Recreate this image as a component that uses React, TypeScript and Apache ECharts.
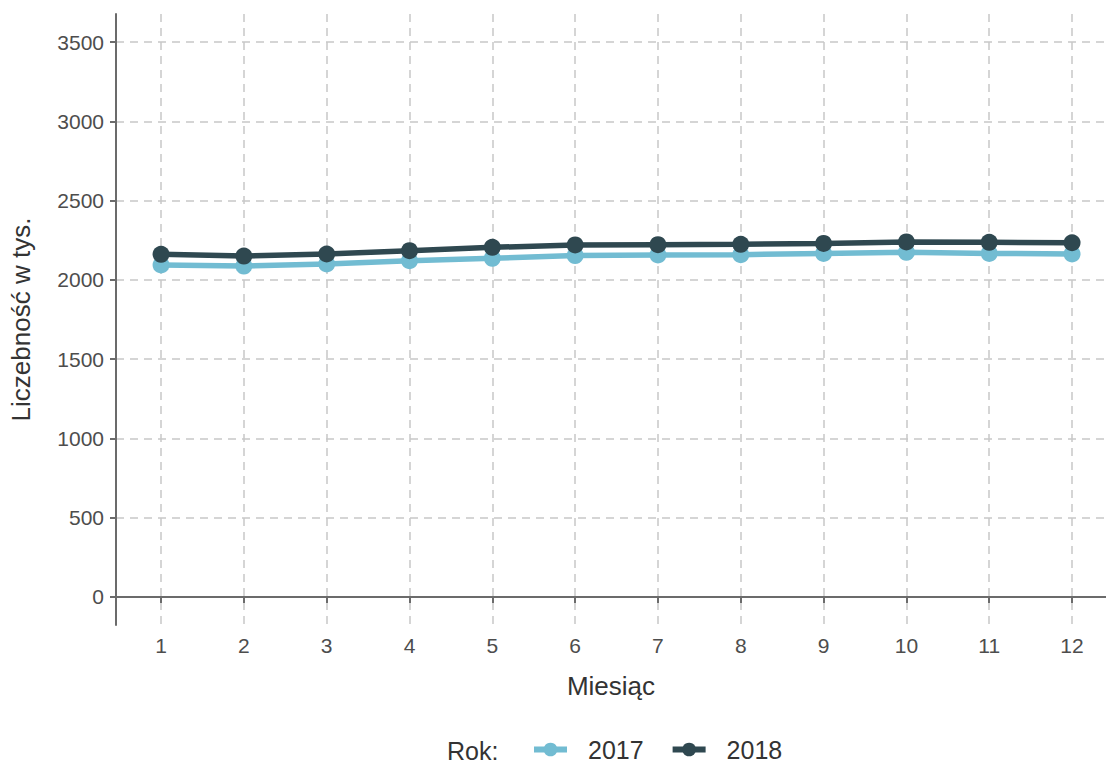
import React, { useEffect, useRef } from "react";
import * as echarts from "echarts";

const months = [1, 2, 3, 4, 5, 6, 7, 8, 9, 10, 11, 12];
const values2017 = [2094, 2087, 2100, 2121, 2136, 2153, 2157, 2159, 2167, 2174, 2167, 2163];
const values2018 = [2161, 2150, 2163, 2184, 2205, 2220, 2222, 2224, 2230, 2239, 2237, 2234];
const yTicks = [0, 500, 1000, 1500, 2000, 2500, 3000, 3500];
const seriesNames = ["2017", "2018"];
const colors = ["#72bcd2", "#2f4850"];

const FONT = "Liberation Sans, Arial, sans-serif";

export default function App() {
  const ref = useRef<HTMLDivElement>(null);
  useEffect(() => {
    if (!ref.current) return;
    const chart = echarts.init(ref.current, undefined, { renderer: "svg" });
    const mk = (vals: number[]) => vals.map((v, i) => [months[i], v]);
    chart.setOption({
      animation: false,
      backgroundColor: "#ffffff",
      textStyle: { fontFamily: FONT },
      grid: { left: 116, right: 0, top: 14, bottom: 140, containLabel: false },
      xAxis: {
        type: "value",
        min: 0.456,
        max: 12.41,
        name: "Miesiąc",
        nameLocation: "middle",
        nameGap: 48,
        nameTextStyle: { fontSize: 26, color: "#333333", fontFamily: FONT },
        axisLine: { show: true, lineStyle: { color: "#6b6b6b", width: 2 } },
        axisTick: { show: true, length: 6, customValues: months, lineStyle: { color: "#6b6b6b", width: 2 } },
        axisLabel: {
          customValues: months,
          fontSize: 21,
          color: "#4d4d4d",
          margin: 10,
          fontFamily: FONT,
          formatter: (v: number) => String(v),
        },
        splitLine: { show: true, lineStyle: { color: "#c8c8c8", width: 1.5, type: [8, 6] } },
      },
      yAxis: {
        type: "value",
        min: -176.6,
        max: 3676.6,
        name: "Liczebność w tys.",
        nameLocation: "middle",
        nameGap: 82,
        nameRotate: 90,
        nameTextStyle: { fontSize: 26, color: "#333333", fontFamily: FONT },
        axisLine: { show: true, lineStyle: { color: "#6b6b6b", width: 2 } },
        axisTick: { show: true, length: 6, customValues: yTicks, lineStyle: { color: "#6b6b6b", width: 2 } },
        axisLabel: {
          customValues: yTicks,
          fontSize: 21,
          color: "#4d4d4d",
          margin: 12,
          fontFamily: FONT,
          formatter: (v: number) => String(v),
        },
        splitLine: { show: true, lineStyle: { color: "#c8c8c8", width: 1.5, type: [8, 6] } },
      },
      legend: {
        show: true,
        data: seriesNames,
        left: 531,
        top: 737,
        padding: 0,
        itemWidth: 33,
        itemHeight: 17,
        itemGap: 26,
        lineStyle: { width: 6 },
        textStyle: { fontSize: 25, color: "#333333", fontFamily: FONT, padding: [0, 0, 0, 16] },
      },
      graphic: [
        {
          type: "text",
          left: 447,
          top: 738,
          style: { text: "Rok:", fontSize: 25, fill: "#333333", fontFamily: FONT },
        },
      ],
      series: seriesNames.map((n, i) => ({
        name: n,
        type: "line",
        data: mk(i === 0 ? values2017 : values2018),
        symbol: "circle",
        symbolSize: 17,
        lineStyle: { color: colors[i], width: 5.5 },
        itemStyle: { color: colors[i] },
        z: 2 + i,
      })),
    });
    return () => chart.dispose();
  }, []);
  return (
    <div
      ref={ref}
      style={{ position: "absolute", left: 0, top: 0, width: 1106, height: 765 }}
    />
  );
}
